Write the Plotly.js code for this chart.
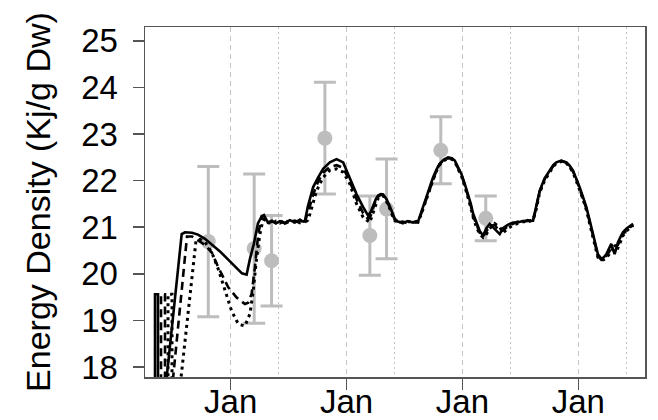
<!DOCTYPE html>
<html>
<head>
<meta charset="utf-8">
<script src="https://cdn.plot.ly/plotly-3.0.1.min.js"></script>
<style>html,body{margin:0;padding:0;background:#fff;}#chart{width:658px;height:420px;}</style>
</head>
<body>
<div id="chart"></div>
<script>
// time in decimal years
var obsX = [2000.807, 2001.203, 2001.353, 2001.813, 2002.201, 2002.345, 2002.813, 2003.201];
var obsY = [20.69, 20.54, 20.28, 22.91, 20.82, 21.39, 22.65, 21.19];
var obsErr = [1.61, 1.6, 0.97, 1.2, 0.85, 1.07, 0.72, 0.48];

var solidX1 = [2000.3474, 2000.3474, 2000.3733, 2000.3733, 2000.5776, 2000.6060, 2000.6664, 2000.7181, 2000.7784, 2000.8388, 2000.9078, 2000.9767, 2001.0457, 2001.0974, 2001.1379, 2001.1664, 2001.2009, 2001.2353, 2001.2672, 2001.2871, 2001.3216, 2001.356, 2001.3905, 2001.425, 2001.468, 2001.511, 2001.554, 2001.597, 2001.626, 2001.6405, 2001.6664, 2001.6836, 2001.712, 2001.7552, 2001.798, 2001.856, 2001.914, 2001.971, 2002.028, 2002.086, 2002.143, 2002.186, 2002.209, 2002.229, 2002.2526, 2002.2724, 2002.2957, 2002.3155, 2002.345, 2002.373, 2002.399, 2002.416, 2002.442, 2002.485, 2002.528, 2002.572];
var solidY1 = [16.0, 19.56, 19.56, 16.0, 20.85, 20.89, 20.88, 20.84, 20.75, 20.63, 20.48, 20.31, 20.13, 20.01, 19.98, 20.32, 20.65, 21.08, 21.23, 21.26, 21.1, 21.14, 21.08, 21.13, 21.09, 21.15, 21.1, 21.16, 21.12, 21.13, 21.45, 21.61, 21.86, 22.07, 22.25, 22.39, 22.46, 22.39, 22.07, 21.71, 21.43, 21.25, 21.33, 21.47, 21.6, 21.68, 21.71, 21.7, 21.6, 21.45, 21.28, 21.18, 21.12, 21.09, 21.13, 21.1];

var dashX1 = [2000.3991, 2000.3991, 2000.4336, 2000.4336, 2000.6233, 2000.6664, 2000.7353, 2000.7784, 2000.8388, 2000.8931, 2000.9793, 2001.0517, 2001.1233, 2001.1509, 2001.181, 2001.2095, 2001.2379, 2001.2672, 2001.2957, 2001.3216, 2001.356, 2001.3905, 2001.425, 2001.468, 2001.511, 2001.554, 2001.597, 2001.626, 2001.6405, 2001.6664, 2001.6836, 2001.712, 2001.7552, 2001.798, 2001.856, 2001.914, 2001.971, 2002.028, 2002.086, 2002.143, 2002.186, 2002.209, 2002.229, 2002.2526, 2002.2724, 2002.2957, 2002.3155, 2002.345, 2002.373, 2002.399, 2002.416, 2002.442, 2002.485, 2002.528, 2002.572];
var dashY1 = [16.0, 19.56, 19.56, 16.0, 20.8, 20.8, 20.69, 20.62, 20.45, 20.14, 19.71, 19.49, 19.35, 19.38, 19.57, 20.14, 20.85, 21.21, 21.15, 21.08, 21.12, 21.1, 21.15, 21.08, 21.12, 21.14, 21.09, 21.13, 21.12, 21.3, 21.45, 21.7, 21.98, 22.17, 22.29, 22.33, 22.27, 21.99, 21.6, 21.3, 21.18, 21.25, 21.4, 21.58, 21.65, 21.7, 21.68, 21.57, 21.42, 21.25, 21.16, 21.1, 21.12, 21.08, 21.11];

var dotX1 = [2000.4595, 2000.4595, 2000.494, 2000.494, 2000.7009, 2000.7353, 2000.7784, 2000.8388, 2000.8931, 2000.9509, 2001.0086, 2001.0664, 2001.1233, 2001.1664, 2001.1948, 2001.2241, 2001.2526, 2001.281, 2001.3043, 2001.3216, 2001.356, 2001.3905, 2001.425, 2001.468, 2001.511, 2001.554, 2001.597, 2001.626, 2001.6405, 2001.6664, 2001.6836, 2001.7414, 2001.798, 2001.856, 2001.914, 2001.971, 2002.028, 2002.086, 2002.143, 2002.2, 2002.229, 2002.2526, 2002.2724, 2002.2957, 2002.3155, 2002.345, 2002.373, 2002.399, 2002.416, 2002.442, 2002.485, 2002.528, 2002.572];
var dotY1 = [16.0, 19.56, 19.56, 16.0, 20.71, 20.74, 20.68, 20.45, 20.1, 19.63, 19.2, 18.92, 18.88, 19.14, 19.63, 20.35, 20.85, 21.18, 21.12, 21.1, 21.07, 21.13, 21.09, 21.14, 21.1, 21.12, 21.15, 21.1, 21.1, 21.15, 21.28, 21.78, 22.07, 22.22, 22.25, 22.18, 21.93, 21.5, 21.21, 21.1, 21.3, 21.5, 21.62, 21.66, 21.68, 21.55, 21.4, 21.22, 21.14, 21.11, 21.09, 21.12, 21.1];

var lateX = [2002.617, 2002.641, 2002.675, 2002.710, 2002.7466, 2002.779, 2002.804, 2002.839, 2002.876, 2002.908, 2002.934, 2002.959, 2002.991, 2003.020, 2003.048, 2003.072, 2003.091, 2003.121, 2003.149, 2003.178, 2003.207, 2003.235, 2003.278, 2003.3216, 2003.350, 2003.3905, 2003.436, 2003.477, 2003.520, 2003.563, 2003.609, 2003.6365, 2003.666, 2003.709, 2003.753, 2003.783, 2003.810, 2003.853, 2003.897, 2003.925, 2003.953, 2003.983, 2004.011, 2004.040, 2004.069, 2004.097, 2004.126, 2004.149, 2004.169, 2004.198, 2004.218, 2004.241, 2004.261, 2004.284, 2004.313, 2004.341, 2004.365, 2004.385, 2004.416, 2004.457, 2004.4725];
var solidY2 = [21.12, 21.3, 21.57, 21.82, 22.07, 22.25, 22.36, 22.45, 22.5, 22.48, 22.43, 22.3, 22.14, 21.93, 21.71, 21.5, 21.3, 21.1, 20.92, 20.82, 20.98, 21.07, 20.95, 20.85, 20.98, 21.05, 21.1, 21.1, 21.13, 21.13, 21.14, 21.45, 21.78, 22.05, 22.22, 22.33, 22.39, 22.43, 22.39, 22.32, 22.22, 22.05, 21.86, 21.65, 21.43, 21.15, 20.85, 20.6, 20.42, 20.32, 20.35, 20.42, 20.52, 20.64, 20.42, 20.67, 20.8, 20.89, 20.97, 21.05, 21.07];
var dashY2 = [21.1, 21.27, 21.53, 21.8, 22.05, 22.24, 22.36, 22.44, 22.48, 22.47, 22.41, 22.29, 22.12, 21.9, 21.68, 21.46, 21.25, 21.04, 20.88, 20.8, 20.92, 21.02, 21.05, 20.9, 20.93, 21.02, 21.07, 21.12, 21.1, 21.15, 21.12, 21.42, 21.76, 22.03, 22.2, 22.31, 22.38, 22.42, 22.38, 22.3, 22.2, 22.03, 21.83, 21.62, 21.4, 21.12, 20.82, 20.56, 20.38, 20.3, 20.33, 20.38, 20.45, 20.55, 20.6, 20.62, 20.75, 20.85, 20.93, 21.02, 21.05];
var dotY2 = [21.13, 21.25, 21.5, 21.77, 22.02, 22.22, 22.34, 22.43, 22.47, 22.46, 22.4, 22.27, 22.1, 21.88, 21.65, 21.42, 21.22, 21.0, 20.85, 20.78, 20.85, 20.97, 21.08, 21.0, 20.88, 20.97, 21.04, 21.08, 21.12, 21.11, 21.16, 21.38, 21.74, 22.0, 22.18, 22.3, 22.37, 22.41, 22.37, 22.29, 22.18, 22.0, 21.8, 21.6, 21.37, 21.08, 20.78, 20.52, 20.35, 20.3, 20.3, 20.35, 20.4, 20.5, 20.58, 20.55, 20.7, 20.82, 20.92, 21.0, 21.04];

var janTicks = [2001, 2002, 2003, 2004];
var janLabels = ['Jan', 'Jan', 'Jan', 'Jan'];
var juneLines = [2001.415, 2002.415, 2003.415, 2004.415];
var yTicks = [18, 19, 20, 21, 22, 23, 24, 25];

var gray = '#bdbdbd';
var traces = [
  {x: obsX, y: obsY, type: 'scatter', mode: 'markers',
   marker: {size: 15, color: gray},
   error_y: {type: 'data', array: obsErr, visible: true, color: gray, thickness: 3, width: 11},
   hoverinfo: 'skip'},
  {x: dotX1.concat(lateX), y: dotY1.concat(dotY2), type: 'scatter', mode: 'lines',
   line: {color: '#000', width: 3, dash: '3px,4px'}},
  {x: dashX1.concat(lateX), y: dashY1.concat(dashY2), type: 'scatter', mode: 'lines',
   line: {color: '#000', width: 2.6, dash: '8px,5px'}},
  {x: solidX1.concat(lateX), y: solidY1.concat(solidY2), type: 'scatter', mode: 'lines',
   line: {color: '#000', width: 2.6}}
];

var font = 'Liberation Sans, Arial, Helvetica, sans-serif';
var layout = {
  width: 658, height: 420,
  margin: {l: 145, r: 13, t: 27, b: 43},
  paper_bgcolor: '#fff', plot_bgcolor: '#fff',
  showlegend: false,
  font: {family: font, color: '#000'},
  xaxis: {
    range: [2000.261, 2004.575],
    tickmode: 'array', tickvals: janTicks, ticktext: janLabels,
    ticks: 'outside', ticklen: 11, tickwidth: 1.5, tickcolor: '#555',
    ticklabelstandoff: -16,
    tickfont: {size: 33, family: font, color: '#000'},
    showgrid: true, gridcolor: '#c4c4c4', gridwidth: 1, griddash: '5px,4px',
    minor: {tickmode: 'array', tickvals: juneLines, showgrid: true, gridcolor: '#c4c4c4', gridwidth: 1, griddash: '2px,3px', ticks: ''},
    showline: true, mirror: true, linecolor: '#555', linewidth: 1.5,
    zeroline: false, fixedrange: true
  },
  yaxis: {
    range: [17.785, 25.295],
    tickmode: 'array', tickvals: yTicks,
    ticks: 'outside', ticklen: 11, tickwidth: 1.5, tickcolor: '#555',
    ticklabelstandoff: 8,
    tickfont: {size: 33, family: font, color: '#000'},
    showgrid: false, zeroline: false,
    showline: true, mirror: true, linecolor: '#555', linewidth: 1.5,
    title: {text: 'Energy Density (Kj/g Dw)', font: {size: 34, family: font, color: '#000'}, standoff: 20},
    fixedrange: true
  }
};

Plotly.newPlot('chart', traces, layout, {staticPlot: true, displayModeBar: false});
</script>
</body>
</html>
